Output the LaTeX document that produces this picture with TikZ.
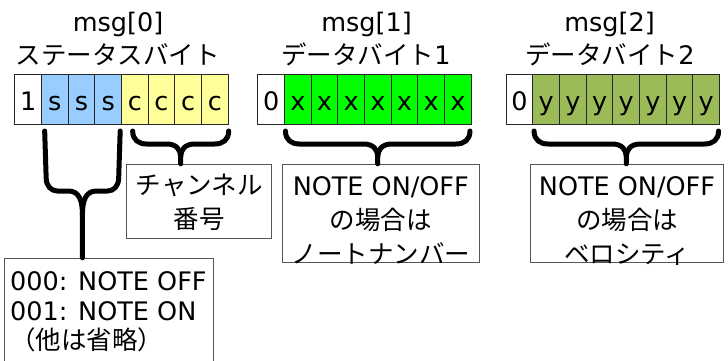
\documentclass[tikz,border=0pt]{standalone}
\usepackage{fontspec}
\setmainfont{DejaVu Sans}
\newfontfamily\jp{Noto Sans CJK JP}
\usetikzlibrary{calc}
\definecolor{sblue}{RGB}{153,204,255}
\definecolor{cyel}{RGB}{255,255,153}
\definecolor{xgreen}{RGB}{0,255,0}
\definecolor{yolive}{RGB}{155,187,89}
\definecolor{boxline}{RGB}{85,85,85}
\begin{document}
\begin{tikzpicture}[x=1pt,y=-1pt,
  font=\fontsize{25.5}{34}\selectfont,
  cell/.style={draw=black!85, line width=1pt, minimum width=26.67pt, minimum height=50pt,
    inner sep=0pt, text height=22pt, text depth=0pt, anchor=north west},
  boxn/.style={draw=boxline, line width=1pt, inner sep=0pt},
  txt/.style={inner sep=0pt},
  brace/.style={line width=5pt, line cap=round, line join=round}]
\useasboundingbox (0,0) rectangle (728,361);

% titles
\node[txt, anchor=base] (t0a) at (118,31.5) {msg[0]};
\node[txt, anchor=base] (t0b) at (118,64.5) {\jp ステータスバイト};
\node[txt, anchor=base] (t1a) at (366.5,31.5) {msg[1]};
\node[txt, anchor=base] (t1b) at (366,64.5) {{\jp データバイト}1};
\node[txt, anchor=base] (t2a) at (609.5,31.5) {msg[2]};
\node[txt, anchor=base] (t2b) at (610,64.5) {{\jp データバイト}2};

% msg[0] cells
\node[cell] (a0) at (14.3,74) {1};
\foreach \i in {1,2,3} \node[cell, fill=sblue] (a\i) at (14.3+26.67*\i,74) {s};
\foreach \i in {4,5,6,7} \node[cell, fill=cyel] (a\i) at (14.3+26.67*\i,74) {c};
% msg[1] cells
\node[cell] (b0) at (257.3,74) {0};
\foreach \i in {1,...,7} \node[cell, fill=xgreen] (b\i) at (257.3+26.67*\i,74) {x};
% msg[2] cells
\node[cell] (c0) at (505.7,74) {0};
\foreach \i in {1,...,7} \node[cell, fill=yolive] (c\i) at (505.7+26.67*\i,74) {y};

% boxes
\node[boxn, minimum width=145pt, minimum height=74pt] (nch) at (199.2,201.3) {};
\node[txt, align=center] (tch) at (199.2,202) {\jp チャンネル\\\jp 番号};
\node[boxn, minimum width=197pt, minimum height=98.4pt] (nb1) at (380.8,213.5) {};
\node[txt, align=center] (tb1) at (380.8,221) {NOTE ON/OFF\\\jp の場合は\\\jp ノートナンバー};
\node[boxn, minimum width=192.6pt, minimum height=98.4pt] (nb2) at (627,213.5) {};
\node[txt, align=center] (tb2) at (627,221) {NOTE ON/OFF\\\jp の場合は\\\jp ベロシティ};
\node[boxn, minimum width=209.3pt, minimum height=113.7pt] (n3) at (108.65,315.15) {};
\node[txt, align=left, anchor=north west, font=\fontsize{25.5}{29.5}\selectfont] (t3) at (10,271.5)
  {000: NOTE OFF\\001: NOTE ON\\{\jp （他は省略）}};

% brace anchor coordinates
\coordinate (cL) at ($(a4.south west)+(11.7,6)$);
\coordinate (cR) at ($(a7.south east)+(0,6)$);
\coordinate (cC) at ($(cL)!0.5!(cR)$);
\coordinate (xL) at ($(b1.south west)+(1.5,6)$);
\coordinate (xR) at ($(b7.south east)+(-1.7,6)$);
\coordinate (xC) at ($(xL)!0.5!(xR)$);
\coordinate (yL) at ($(c1.south west)+(1.7,6)$);
\coordinate (yR) at ($(c7.south east)+(-1.5,6)$);
\coordinate (yC) at ($(yL)!0.5!(yR)$);
\coordinate (sL) at ($(a1.south west)+(3.7,6)$);
\coordinate (sR) at ($(a3.south east)+(-1.8,6)$);
\coordinate (sC) at ($(sL)!0.5!(sR)$);

% horizontal braces
\foreach \p/\bx in {c/nch, x/nb1, y/nb2}{
  \draw[brace] (\p L) .. controls +(0,9) and +(-8,0) .. ++(14,13)
    -- ($(\p C)+(-14,13)$) .. controls +(10,0) and +(0,-7) .. ($(\p C)+(0,26)$)
    -- (\p C |- \bx.north);
  \draw[brace] (\p R) .. controls +(0,9) and +(8,0) .. ++(-14,13)
    -- ($(\p C)+(14,13)$) .. controls +(-10,0) and +(0,-7) .. ($(\p C)+(0,26)$);
}
% tall brace for sss
\draw[brace] (sL) -- ++(1.5,47) .. controls +(0,8) and +(-6,0) .. ++(11,13)
  -- ($(sC)+(-14,60)$) .. controls +(11,0) and +(0,-14) .. ($(sC)+(0,84)$)
  -- (sC |- n3.north);
\draw[brace] (sR) -- ++(-1.5,47) .. controls +(0,8) and +(6,0) .. ++(-11,13)
  -- ($(sC)+(14,60)$) .. controls +(-11,0) and +(0,-14) .. ($(sC)+(0,84)$);
\end{tikzpicture}
\end{document}
